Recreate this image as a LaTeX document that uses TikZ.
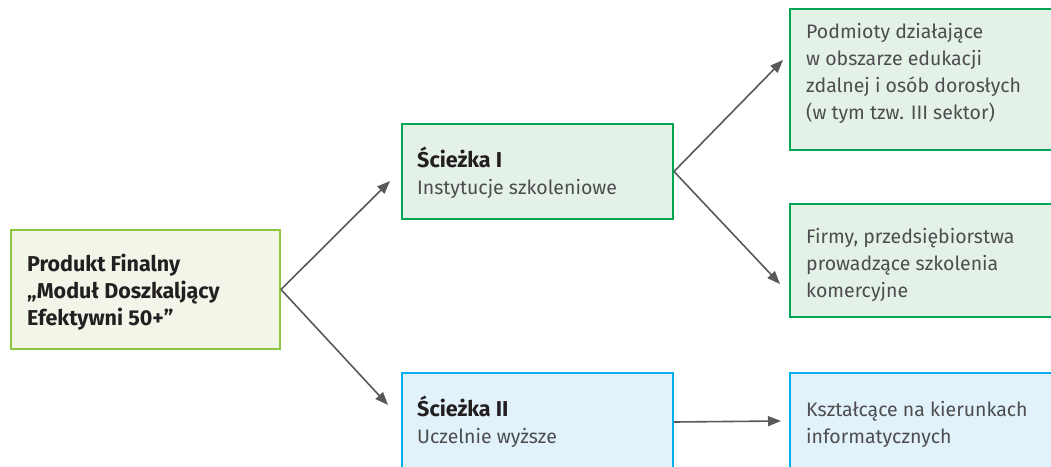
\documentclass[tikz,border=0pt]{standalone}
\usepackage{fontspec}
\setmainfont{Fira Sans}
\usetikzlibrary{arrows.meta}
\definecolor{prodBorder}{HTML}{8DC63F}
\definecolor{prodFill}{HTML}{F1F6E8}
\definecolor{greenBorder}{HTML}{00A651}
\definecolor{greenFill}{HTML}{E3F1E7}
\definecolor{blueBorder}{HTML}{00AEEF}
\definecolor{blueFill}{HTML}{E1F2FA}
\definecolor{arrowGray}{HTML}{58595B}
\definecolor{txtGray}{HTML}{4D4D4F}
\definecolor{txtDark}{HTML}{231F20}
\newcommand{\headb}[1]{{\color{txtDark}\fontsize{21.5}{27}\fontseries{b}\selectfont #1}}
\tikzset{
  box/.style={draw, line width=2pt, anchor=north west, inner sep=0pt},
  prodbox/.style={box, draw=prodBorder, fill=prodFill},
  greenbox/.style={box, draw=greenBorder, fill=greenFill},
  bluebox/.style={box, draw=blueBorder, fill=blueFill},
  txt/.style={anchor=base west, inner sep=0pt, align=left, text=txtGray,
    font=\fontsize{19.5}{27}\selectfont\fontseries{l}\selectfont},
  prodtxt/.style={txt, text=txtDark, font=\fontsize{21.5}{27}\selectfont\bfseries},
  arr/.style={draw=arrowGray, line width=1.6pt, -{Triangle[length=13pt,width=10pt]}}
}
\begin{document}
\begin{tikzpicture}[x=1pt,y=-1pt]
\useasboundingbox (0,0) rectangle (1051,466);
\clip (0,0) rectangle (1051,466);
% boxes
\node[prodbox, minimum width=269pt, minimum height=119pt] (prod) at (10,229) {};
\node[greenbox, minimum width=271pt, minimum height=95pt] (s1) at (401,123) {};
\node[bluebox, minimum width=271pt, minimum height=98pt] (s2) at (401,372) {};
\node[greenbox, minimum width=290pt, minimum height=141pt] (r1) at (789,8) {};
\node[greenbox, minimum width=290pt, minimum height=113pt] (r2) at (789,203) {};
\node[bluebox, minimum width=290pt, minimum height=110pt] (r3) at (789,372) {};
% texts (anchor = baseline of last line)
\node[prodtxt] (prodlabel) at (27,325) {Produkt Finalny\\„Moduł Doszkaljący\\Efektywni 50+”};
\node[txt] (s1label) at (417,194) {\headb{Ścieżka I}\\Instytucje szkoleniowe};
\node[txt] (s2label) at (417,443) {\headb{Ścieżka II}\\Uczelnie wyższe};
\node[txt] (r1label) at (806,119) {Podmioty działające\\w obszarze edukacji\\zdalnej i osób dorosłych\\(w tym tzw. III sektor)};
\node[txt] (r2label) at (806,297) {Firmy, przedsiębiorstwa\\prowadzące szkolenia\\komercyjne};
\node[txt] (r3label) at (806,443) {Kształcące na kierunkach\\informatycznych};
% arrow tips
\coordinate (t1) at (390,181);
\coordinate (t2) at (388,405);
\coordinate (t3) at (783,60);
\coordinate (t4) at (780,284);
\coordinate (t5) at (781,421);
\draw[arr] (prod.east) -- (t1);
\draw[arr] (prod.east) -- (t2);
\draw[arr] (s1.east) -- (t3);
\draw[arr] (s1.east) -- (t4);
\draw[arr] (s2.east) -- (t5);
\end{tikzpicture}
\end{document}
